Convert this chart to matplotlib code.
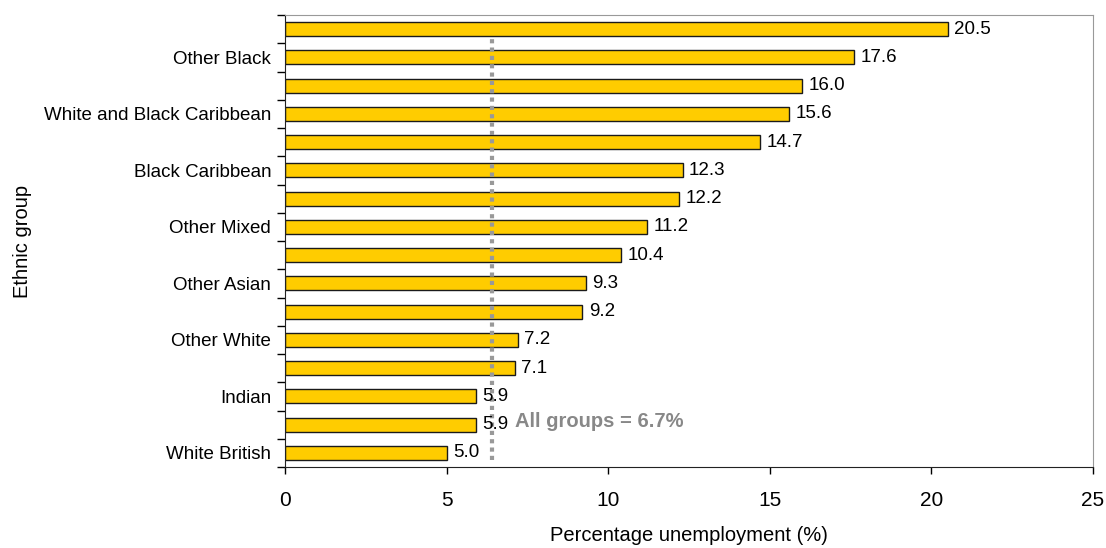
import matplotlib
matplotlib.use("Agg")
import matplotlib.pyplot as plt
import numpy as np

plt.rcParams['font.family'] = ['Liberation Sans', 'DejaVu Sans']

# top to bottom, only every other group is labelled on the axis
groups = ['', 'Other Black', '', 'White and Black Caribbean', '', 'Black Caribbean',
          '', 'Other Mixed', '', 'Other Asian', '', 'Other White', '', 'Indian',
          '', 'White British']
rates = [20.5, 17.6, 16.0, 15.6, 14.7, 12.3, 12.2, 11.2, 10.4, 9.3, 9.2, 7.2,
         7.1, 5.9, 5.9, 5.0]
all_groups = 6.4  # where the dotted line sits in the picture
all_groups_label = 'All groups = 6.7%'

fig = plt.figure(figsize=(11.06, 5.48), dpi=100)
ax = fig.add_axes([0.2577, 0.1478, 0.9883 - 0.2577, 0.9726 - 0.1478])

n = len(rates)
y = np.arange(n)
ax.barh(y, rates, height=0.5, color='#ffcc00', edgecolor='#1a1a1a', linewidth=1.0, zorder=2)
for yi, r in zip(y, rates):
    ax.text(r + 0.2, yi, f'{r:.1f}', va='center', ha='left', fontsize=13.5, zorder=4)

ax.axvline(all_groups, ymin=0.015, ymax=0.95, color='#999999', linestyle=(0, (1, 1)),
           linewidth=3, zorder=3)
ax.text(all_groups + 0.7, n - 2.1, all_groups_label, color='#888888',
        fontsize=14.5, fontweight='bold', va='center', ha='left')

ax.set_ylim(n - 0.5, -0.5)
ax.set_xlim(0, 25)
ax.set_xticks(range(0, 26, 5))
ax.set_yticks(np.arange(-0.5, n, 1), minor=False)
ax.set_yticklabels([])
ax.set_yticks(y[1::2], minor=True)
ax.set_yticklabels([g for g in groups[1::2]], minor=True, fontsize=13.5)
ax.tick_params(axis='y', which='major', length=6, width=1, direction='out')
ax.tick_params(axis='y', which='minor', length=0, pad=10)
ax.tick_params(axis='x', length=5, width=1, direction='out', labelsize=15, pad=12)

for s in ['top', 'right']:
    ax.spines[s].set_color('#999999')
for s in ['left', 'bottom']:
    ax.spines[s].set_color('#222222')

ax.set_xlabel('Percentage unemployment (%)', fontsize=14.5, labelpad=12)
ax.set_ylabel('Ethnic group', fontsize=14.5)
ax.yaxis.set_label_coords(-0.313, 0.5)

fig.savefig('out.png', dpi=100)
